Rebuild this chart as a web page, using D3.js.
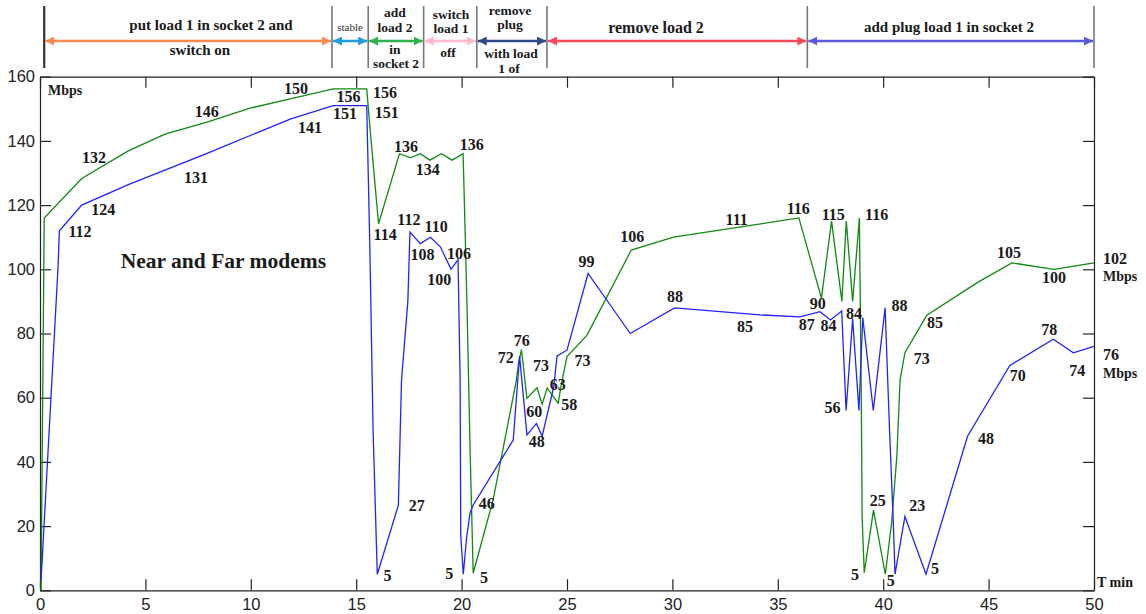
<!DOCTYPE html>
<html>
<head>
<meta charset="utf-8">
<script src="https://cdn.jsdelivr.net/npm/d3@7"></script>
<style>
  body { margin: 0; background: #fff; }
  svg { display: block; }
</style>
</head>
<body>
<div id="chart"></div>
<script>
// time (min) / throughput (Mbps)
const greenSeries = [
  [0.05, 0], [0.2, 116], [1.98, 128.3], [4.19, 136.9], [5.93, 142.1], [8, 146], [9.96, 150.2],
  [12.33, 153.8], [13.91, 156.2], [15.5, 156.2], [15.66, 143.5], [16.06, 114.2], [17.05, 136],
  [17.57, 134.7], [18.04, 136], [18.5, 134], [19.04, 136], [19.55, 134], [20.07, 136],
  [20.1, 128.8], [20.25, 90.4], [20.4, 44.7], [20.55, 5.3], [21.5, 28.3], [22.6, 65.5],
  [22.7, 70.7], [22.84, 75], [23.1, 59.8], [23.58, 63.1], [23.82, 58], [24.06, 63],
  [24.58, 58.3], [24.77, 65.5], [25.0, 72.8], [25.95, 79.5], [28.05, 106], [30.05, 110],
  [36.0, 116], [37.07, 91], [37.55, 115], [38.04, 90], [38.25, 115], [38.55, 90], [38.87, 116],
  [38.96, 60], [39.0, 23], [39.1, 5.5], [39.54, 25], [40.1, 5], [40.4, 21], [40.65, 42],
  [40.8, 65.5], [41.03, 74], [42.07, 85.7], [44.5, 96], [46.1, 102], [48.1, 100], [50, 102]
]

const blueSeries = [
  [0.05, 3], [0.85, 100], [0.92, 112], [1.98, 120], [4.19, 126.4], [7.84, 135.9], [11.87, 146.8],
  [13.9, 151], [15.5, 151], [15.65, 106], [15.8, 50], [16.0, 5], [17.0, 26.5], [17.15, 65.5],
  [17.45, 90], [17.55, 111.6], [18.04, 108], [18.52, 110], [18.99, 107], [19.5, 100],
  [19.83, 103], [19.93, 65.5], [19.96, 17], [20.08, 5], [20.24, 16.6], [20.4, 24], [20.55, 26.6],
  [22.45, 46.8], [22.75, 73], [23.1, 48.4], [23.55, 52], [23.82, 48], [24.37, 63.4],
  [24.53, 73], [25.0, 74.8], [26.0, 98.7], [28.0, 80], [30.1, 88], [34.15, 85.8], [36.05, 85.2],
  [37.0, 86.8], [37.5, 84.2], [38.03, 87], [38.24, 56], [38.55, 84.5], [38.85, 56], [39.03, 85],
  [39.53, 56], [40.09, 88], [40.3, 50], [40.48, 21], [40.56, 5], [41.03, 23], [42.03, 5],
  [44, 48], [46, 70], [48.07, 78.2], [49.02, 74], [50, 76]
]

// value labels: text, t, v (where the label sits)
const pointLabels = [
  ["150", 12.14, 156.4], ["156", 14.63, 154], ["156", 16.37, 155.1], ["146", 7.91, 149.1],
  ["151", 14.47, 148.6], ["151", 16.45, 148.9], ["141", 12.81, 144.2], ["132", 2.56, 134.9],
  ["131", 7.4, 128.7], ["124", 3.0, 118.7], ["112", 1.9, 111.7], ["114", 16.37, 111],
  ["136", 17.36, 138.2], ["134", 18.39, 131.2], ["136", 20.48, 139], ["112", 17.5, 115.4],
  ["110", 18.79, 113.3], ["108", 18.15, 104.7], ["106", 19.88, 105], ["100", 18.94, 96.9],
  ["99", 25.93, 102.4], ["76", 22.85, 78], ["72", 22.1, 72.5], ["73", 23.77, 70],
  ["63", 24.56, 64], ["60", 23.45, 55.6], ["58", 25.11, 57.9], ["73", 25.74, 71.7],
  ["48", 23.56, 46.3], ["27", 17.87, 26.6], ["5", 16.49, 4.5], ["5", 19.42, 5.3],
  ["5", 21.06, 3.9], ["46", 21.19, 27.1], ["106", 28.1, 110.2], ["111", 33.05, 115.4],
  ["116", 35.97, 119], ["88", 30.12, 91.7], ["85", 33.44, 82.1], ["87", 36.37, 82.9],
  ["84", 37.4, 82.4], ["90", 36.89, 89.4], ["115", 37.63, 117.2], ["116", 39.69, 117.2],
  ["84", 38.61, 86.3], ["88", 40.77, 88.6], ["85", 42.46, 83.4], ["73", 41.83, 72.3],
  ["56", 37.6, 56.9], ["25", 39.74, 28.1], ["23", 41.62, 26.6], ["5", 38.66, 4.8],
  ["5", 40.36, 3.2], ["5", 42.46, 6.9], ["48", 44.88, 47.4], ["105", 45.97, 105.2],
  ["100", 48.1, 97.5], ["78", 47.88, 81.3], ["70", 46.38, 67.1], ["74", 49.21, 68.6]
]

// phases along the top: start, end (min), colour
const phaseStarts = [0.2, 13.85, 15.57, 18.2, 20.72, 24.05, 36.4]
const phaseEnds   = [13.85, 15.57, 18.2, 20.72, 24.05, 36.4, 50]
const phaseColors = ["#ff8a4c", "#1f9ae0", "#2fb14f", "#ffb8cc", "#2e4a86", "#ff4a5a", "#5a5ad8"]

const xTicks = d3.range(0, 51, 5)
const yTicks = d3.range(0, 161, 20)

const width = 1146, height = 614
const svg = d3.select("#chart").append("svg")
    .attr("width", width)
    .attr("height", height)

const x = d3.scaleLinear().domain([0, 50]).range([40, 1094])
const y = d3.scaleLinear().domain([0, 160]).range([590.3, 76.7])

// axes, ticks pointing inward like matlab
const axisFont = "'Liberation Sans', Arial, sans-serif"
const axBottom = svg.append("g")
    .attr("transform", `translate(0,${y(0)})`)
    .call(d3.axisBottom(x).tickValues(xTicks).tickSizeInner(-11).tickSizeOuter(0).tickPadding(8))
const axLeft = svg.append("g")
    .attr("transform", `translate(${x(0)},0)`)
    .call(d3.axisLeft(y).tickValues(yTicks).tickSizeInner(-11).tickSizeOuter(0).tickPadding(5))
const axTop = svg.append("g")
    .attr("transform", `translate(0,${y(160)})`)
    .call(d3.axisTop(x).tickValues(xTicks).tickSizeInner(-11).tickSizeOuter(0).tickFormat(""))
const axRight = svg.append("g")
    .attr("transform", `translate(${x(50)},0)`)
    .call(d3.axisRight(y).tickValues(yTicks).tickSizeInner(-11).tickSizeOuter(0).tickFormat(""))

;[axBottom, axLeft, axTop, axRight].forEach(g => {
    g.selectAll("path, line").attr("stroke", "#222").attr("stroke-width", 1.2)
    g.selectAll("text").attr("font-family", axisFont).attr("font-size", 16.5).attr("fill", "#222")
})

// lines
const line = d3.line().x(d => x(d[0])).y(d => y(d[1]))
svg.append("path").datum(greenSeries)
    .attr("d", line).attr("fill", "none").attr("stroke", "#108a10").attr("stroke-width", 1.3)
svg.append("path").datum(blueSeries)
    .attr("d", line).attr("fill", "none").attr("stroke", "#2222ff").attr("stroke-width", 1.3)

// value labels
const serif = "'Liberation Serif', 'Times New Roman', serif"
svg.append("g").selectAll("text")
    .data(pointLabels)
    .join("text")
    .attr("x", d => x(d[1]))
    .attr("y", d => y(d[2]))
    .attr("dy", "0.35em")
    .attr("text-anchor", "middle")
    .attr("font-family", serif)
    .attr("font-weight", "bold")
    .attr("font-size", 16)
    .attr("fill", "#1a1a1a")
    .text(d => d[0])

function boldText(txt, px, py, size, anchor) {
    svg.append("text")
        .attr("x", px).attr("y", py)
        .attr("dy", "0.35em")
        .attr("text-anchor", anchor || "middle")
        .attr("font-family", serif)
        .attr("font-weight", "bold")
        .attr("font-size", size)
        .attr("fill", "#1a1a1a")
        .text(txt)
}

boldText("Mbps", 48, 90, 14, "start")
boldText("Near and Far modems", x(8.7), y(102.7), 21.5)
boldText("102", 1103, 258, 16, "start")
boldText("Mbps", 1103, 276, 14, "start")
boldText("76", 1103, 354, 16, "start")
boldText("Mbps", 1103, 373, 14, "start")
boldText("T min", 1097, 582, 14, "start")

// phase band along the top
const defs = svg.append("defs")
phaseColors.forEach((c, i) => {
    defs.append("marker")
        .attr("id", "arr" + i)
        .attr("viewBox", "0 0 10 10")
        .attr("refX", 10).attr("refY", 5)
        .attr("markerWidth", 9).attr("markerHeight", 9)
        .attr("markerUnits", "userSpaceOnUse")
        .attr("orient", "auto-start-reverse")
        .append("path")
        .attr("d", "M0,0L10,5L0,10z")
        .attr("fill", c)
})

const band = svg.append("g")
const bounds = [phaseStarts[0]].concat(phaseEnds)
band.selectAll("line.sep")
    .data(bounds)
    .join("line")
    .attr("class", "sep")
    .attr("x1", d => x(d)).attr("x2", d => x(d))
    .attr("y1", 6).attr("y2", 68)
    .attr("stroke", (d, i) => i === 0 ? "#333" : "#777")
    .attr("stroke-width", (d, i) => i === 0 ? 2.2 : 1.6)

band.selectAll("line.arrow")
    .data(phaseStarts)
    .join("line")
    .attr("class", "arrow")
    .attr("x1", d => x(d) + 1)
    .attr("x2", (d, i) => x(phaseEnds[i]) - 1)
    .attr("y1", 41).attr("y2", 41)
    .attr("stroke", (d, i) => phaseColors[i])
    .attr("stroke-width", 2.4)
    .attr("marker-start", (d, i) => `url(#arr${i})`)
    .attr("marker-end", (d, i) => `url(#arr${i})`)

// phase captions: text, centre x (px), y (px), size
const phaseText = [
    ["put load 1 in socket 2 and", 211, 25, 15], ["switch on", 200, 50, 15],
    ["add", 395, 12, 13.5], ["load 2", 395, 27, 13.5], ["in", 395, 49, 13.5], ["socket 2", 396, 63, 13.5],
    ["switch", 451, 14, 13.5], ["load 1", 451, 28, 13.5], ["off", 448, 52, 13.5],
    ["remove", 510, 10, 13.5], ["plug", 510, 24, 13.5], ["with load", 511, 53, 13.5], ["1 of", 509, 68, 13.5],
    ["remove load 2", 656, 27, 16], ["add plug load 1 in socket 2", 949, 27, 15]
]
phaseText.forEach(d => boldText(d[0], d[1], d[2], d[3]))

svg.append("text")
    .attr("x", 350).attr("y", 27).attr("dy", "0.35em")
    .attr("text-anchor", "middle")
    .attr("font-family", serif)
    .attr("font-size", 11)
    .attr("fill", "#333")
    .text("stable")
</script>
</body>
</html>
